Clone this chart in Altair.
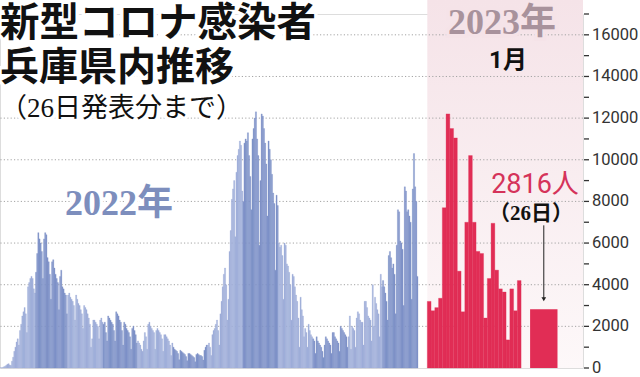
import altair as alt
import pandas as pd

# ---------------- data (daily new cases, Hyogo) ----------------
jan22 = [10, 15, 30, 60, 90, 130, 180, 210, 150, 120, 330, 520, 800, 1000, 1250, 1400, 1100,
         1800, 2100, 2500, 2700, 2900, 2600, 1700, 3900, 4100, 4300, 4400, 4300, 3800, 3600]
feb22 = [4600, 5500, 6500, 6200, 6000, 5600, 4300, 6200, 6500, 6400, 5300, 5100, 4500, 3300,
         5100, 5200, 4800, 4500, 4300, 4100, 2800, 4400, 4700, 3900, 3800, 3600, 3500, 2600]
mar22 = [3500, 3600, 3400, 3300, 3200, 3000, 2300, 3500, 3300, 3100, 3000, 2800, 2600, 1900,
         3000, 2900, 2800, 2600, 2400, 2100, 1000, 1400, 2300, 2300, 2200, 2100, 2000, 1400,
         2300, 2400, 2200]
apr22 = [2100, 2200, 1700, 1300, 2500, 2400, 2300, 2200, 2100, 1800, 1300, 2700, 2600, 2500,
         2300, 2200, 1800, 1100, 2200, 2100, 1900, 1800, 1700, 1500, 900, 1900, 2000, 1800,
         1600, 1200]
may22 = [1300, 1200, 1100, 900, 800, 1300, 1700, 1500, 900, 2100, 2200, 2000, 1900, 1800,
         1700, 900, 1800, 1900, 1800, 1700, 1600, 1400, 800, 1600, 1600, 1500, 1400, 1300,
         1100, 600, 1200]
jun22 = [1000, 900, 850, 800, 700, 400, 850, 800, 750, 700, 650, 550, 350, 700, 700, 650,
         600, 550, 500, 300, 650, 700, 650, 600, 600, 550, 380, 850, 1000, 1100]
jul22 = [1100, 1200, 1000, 600, 1600, 1800, 1900, 2100, 2300, 1800, 1100, 2600, 3200, 3900,
         4500, 4800, 4000, 2300, 3300, 5600, 6600, 8100, 8600, 9000, 6300, 9400, 10200, 10500,
         10900, 10700, 8500]
aug22 = [8000, 10800, 11000, 10900, 11300, 10200, 9200, 7600, 11000, 11500, 12000, 12300,
         11000, 10200, 5900, 9000, 12200, 12100, 11500, 10800, 9800, 7300, 10900, 10500,
         10000, 9300, 8400, 7900, 4700, 8300, 7800]
sep22 = [6000, 5800, 5900, 5400, 3300, 6000, 5900, 5000, 4900, 4600, 4000, 2300, 4500, 4400,
         3900, 3500, 3200, 2400, 1000, 3400, 2800, 2500, 1500, 1900, 1700, 1000, 2100, 1800,
         1600, 1500]
oct22 = [1400, 1300, 700, 1500, 1300, 1200, 1100, 1000, 800, 500, 1100, 1500, 1400, 1300,
         1200, 1100, 700, 1700, 1700, 1500, 1400, 1300, 1200, 800, 2000, 1900, 1800, 1700,
         1600, 1500, 1000]
nov22 = [1500, 2500, 900, 2000, 1900, 1800, 1000, 2400, 2700, 2600, 2300, 2200, 2200, 1100,
         3200, 3200, 2900, 2500, 2400, 2300, 1300, 4000, 2000, 3400, 3100, 2800, 2600, 1500,
         4500, 3900]
dec22 = [4200, 3900, 3600, 3200, 2300, 5400, 5600, 5300, 4800, 5000, 4500, 2600, 5900, 7600,
         7500, 6100, 6000, 5700, 3000, 8700, 8500, 7500, 7600, 7300, 7000, 3300, 8600, 10300,
         8700, 8000, 4400]
months_2022 = [jan22, feb22, mar22, apr22, may22, jun22, jul22, aug22, sep22, oct22, nov22, dec22]

jan23 = [3200, 2750, 2900, 3350, 7700, 12200, 11500, 11050, 4650, 2700, 7000, 10200, 7000,
         5600, 5500, 2400, 4300, 6950, 4700, 3800, 3650, 1350, 3800, 2750, 4200]
day26_value = 2816

y_ticks = list(range(0, 17001, 1000))
y_labels = list(range(0, 16001, 2000))
grid_values = list(range(2000, 16001, 2000))

# ---------------- tables ----------------
rows = []
i = 0
for m, vals in enumerate(months_2022, start=1):
    for v in vals:
        rows.append({"d0": i, "d1": i + 1, "value": v, "shade": "odd" if m % 2 else "even"})
        i += 1
df22 = pd.DataFrame(rows)
n22 = i

df23 = pd.DataFrame({"d0": list(range(len(jan23))),
                     "d1": list(range(1, len(jan23) + 1)),
                     "value": jan23})

# ---------------- layout ----------------
W, H, TOP = 583, 354, 14
X22 = alt.Scale(domain=[0, n22], range=[0, 418], nice=False, zero=False)
U23 = 41.5
X23 = alt.Scale(domain=[0, U23], range=[427.3, W], nice=False, zero=False)
LAST0, LAST1 = 27.4, 34.7
YS = alt.Scale(domain=[0, 17000], nice=False)

LIGHT, DARK = "#9fafd8", "#7f92c8"
RED = "#e12d55"
one = pd.DataFrame({"k": [0]})

pink = alt.Chart(one).mark_rect(
    color=alt.LinearGradient(gradient="linear", x1=0, x2=0, y1=0, y2=1,
                             stops=[alt.GradientStop(color="#f5e3e8", offset=0),
                                    alt.GradientStop(color="#fdf8f9", offset=1)])
).encode(
    x=alt.X(datum=0, scale=X23, axis=None),
    x2=alt.X2(datum=U23),
    y=alt.value(-TOP), y2=alt.value(H),
)

grid = alt.Chart(pd.DataFrame({"g": grid_values})).mark_rule(
    color="#a4a4a4", strokeDash=[1.2, 2.2], strokeWidth=1
).encode(y=alt.Y("g:Q", scale=YS, axis=None))

# right-hand value axis (ticks every 1000, labels every 2000)
ticks = alt.Chart(pd.DataFrame({"t": y_ticks})).mark_rule(color="#333", strokeWidth=1.3).encode(
    y=alt.Y("t:Q", scale=YS, axis=None),
    x=alt.value(W + 1), x2=alt.value(W + 6),
)
labels = alt.Chart(pd.DataFrame({"t": y_labels})).mark_text(
    align="left", baseline="middle", font="Roboto", fontSize=16.5, color="#333"
).encode(
    y=alt.Y("t:Q", scale=YS, axis=None),
    x=alt.value(W + 9),
    text=alt.Text("t:Q", format="d"),
)

bars22 = alt.Chart(df22).mark_rect(strokeWidth=0.3).encode(
    x=alt.X("d0:Q", scale=X22, axis=None),
    x2="d1:Q",
    y=alt.Y("value:Q", scale=YS, axis=None),
    y2=alt.Y2(datum=0),
    color=alt.Color("shade:N", scale=alt.Scale(domain=["odd", "even"], range=[LIGHT, DARK]), legend=None),
    stroke=alt.Stroke("shade:N", scale=alt.Scale(domain=["odd", "even"], range=[LIGHT, DARK]), legend=None),
)

bars23 = alt.Chart(df23).mark_rect(color=RED, stroke=RED, strokeWidth=0.3).encode(
    x=alt.X("d0:Q", scale=X23, axis=None),
    x2="d1:Q",
    y=alt.Y("value:Q", scale=YS, axis=None),
    y2=alt.Y2(datum=0),
)

last = alt.Chart(pd.DataFrame({"value": [day26_value]})).mark_rect(color=RED).encode(
    x=alt.X(datum=LAST0, scale=X23, axis=None),
    x2=alt.X2(datum=LAST1),
    y=alt.Y("value:Q", scale=YS, axis=None),
    y2=alt.Y2(datum=0),
)

mid = (LAST0 + LAST1) / 2
arrow = alt.Chart(one).mark_rule(color="#222", strokeWidth=1).encode(
    x=alt.X(datum=mid, scale=X23, axis=None),
    y=alt.Y(datum=6850, scale=YS, axis=None),
    y2=alt.Y2(datum=3300),
)
head = alt.Chart(one).mark_point(shape="triangle-down", filled=True, color="#222", size=22, opacity=1).encode(
    x=alt.X(datum=mid, scale=X23, axis=None),
    y=alt.Y(datum=3300, scale=YS, axis=None),
)


def txt(text, x, y, size, color, font, weight="normal", align="left", halo=None):
    layers = []
    base = dict(text=text, align=align, baseline="alphabetic", font=font,
                fontSize=size, fontWeight=weight)
    if halo:
        layers.append(alt.Chart(one).mark_text(color=halo, stroke=halo, strokeWidth=7, **base)
                      .encode(x=alt.value(x), y=alt.value(y)))
    layers.append(alt.Chart(one).mark_text(color=color, **base)
                  .encode(x=alt.value(x), y=alt.value(y)))
    return layers


CJK = "Noto Sans CJK JP"
SERIF = "Liberation Serif, " + CJK
texts = []
texts += txt("新型コロナ感染者", 0, 22, 39.5, "#111", CJK, "bold", halo="white")
texts += txt("兵庫県内推移", 0, 65.5, 39, "#111", CJK, "bold", halo="white")
texts += txt("（26日発表分まで）", 0, 102.5, 27, "#111", SERIF, halo="white")
texts += txt("2022年", 119, 201, 36, "#7d8ebd", SERIF, "bold", "center", halo="white")
texts += txt("2023年", 502, 20, 36, "#a8929c", SERIF, "bold", "center", halo="#f5e3e8")
texts += txt("1月", 508, 54, 24, "#111", "Roboto, " + CJK, "bold", "center")
texts += txt("2816人", 535, 179, 27, "#d5335a", "Roboto, " + CJK, "normal", "center")
texts += txt("（26日）", 531, 206, 21, "#111", SERIF, "bold", "center")

chart = alt.layer(pink, grid, bars22, bars23, last, arrow, head, ticks, labels, *texts).resolve_scale(
    x="independent"
).properties(
    width=W, height=H,
    padding={"left": 0, "top": TOP, "right": 57, "bottom": 9},
    autosize=alt.AutoSizeParams(type="none"),
).configure_view(stroke=None, clip=False).configure(background="white")

chart.save("out.html", embed_options={"renderer": "svg", "actions": False})
